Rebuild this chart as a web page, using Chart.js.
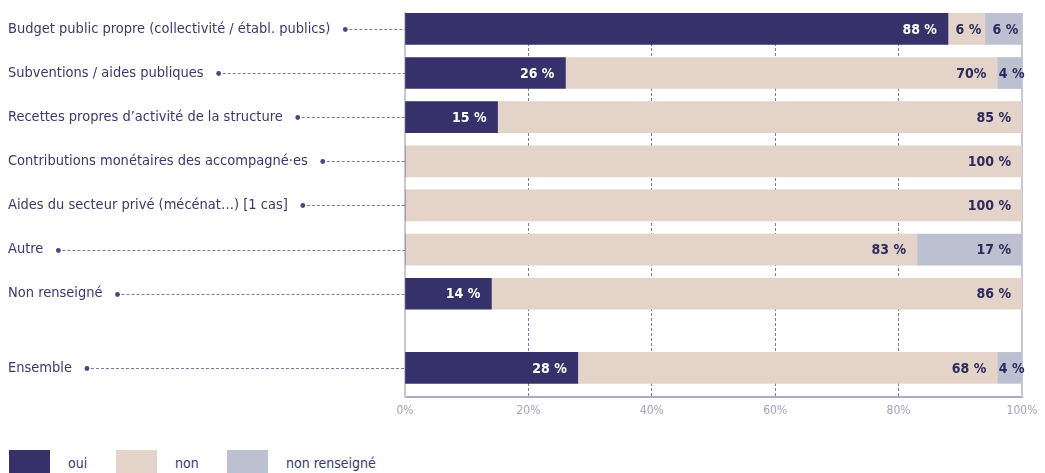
<!DOCTYPE html>
<html lang="fr">
<head>
<meta charset="utf-8">
<title>Sources de financement</title>
<script src="https://cdn.jsdelivr.net/npm/chart.js@4.4.1/dist/chart.umd.min.js"></script>
<style>
  html,body{margin:0;padding:0;background:#fff;}
  body{width:1045px;height:473px;overflow:hidden;position:relative;font-family:"Liberation Sans Narrow","DejaVu Sans Condensed",sans-serif;}
  #wrap{position:absolute;left:0;top:0;width:1045px;height:430px;}
  .leg{position:absolute;top:450px;display:flex;align-items:center;color:#3b3770;font-size:14px;height:26px;}
  .sw{width:41px;height:26px;margin-right:18px;}
</style>
</head>
<body>
<div id="wrap"><canvas id="chart"></canvas></div>
<div class="leg" style="left:9px"><span class="sw" style="background:#36316a"></span>oui</div>
<div class="leg" style="left:116px"><span class="sw" style="background:#e3d3c8"></span>non</div>
<div class="leg" style="left:227px"><span class="sw" style="background:#bcc0d1"></span>non renseigné</div>
<script>
// Data
const categories = [
  'Budget public propre (collectivité / établ. publics)',
  'Subventions / aides publiques',
  'Recettes propres d\u2019activité de la structure',
  'Contributions monétaires des accompagné·es',
  'Aides du secteur privé (mécénat…) [1 cas]',
  'Autre',
  'Non renseigné',
  'Ensemble'
];
const rowPos = [0, 1, 2, 3, 4, 5, 6, 7.68]; // Ensemble is set apart
const oui = [88, 26, 15, 0, 0, 0, 14, 28];
const non = [6, 70, 85, 100, 100, 83, 86, 68];
const nonRenseigne = [6, 4, 0, 0, 0, 17, 0, 4];
const ouiText = ['88 %', '26 %', '15 %', '', '', '', '14 %', '28 %'];
const nonText = ['6 %', '70%', '85 %', '100 %', '100 %', '83 %', '86 %', '68 %'];
const nrText = ['6 %', '4 %', '', '', '', '17 %', '', '4 %'];
const xTicks = [0, 20, 40, 60, 80, 100];

const FONT = '"Liberation Sans Narrow","DejaVu Sans Condensed",sans-serif';
const LABEL_SIZE = 14.5;
Chart.defaults.font.family = FONT;

const texts = [ouiText, nonText, nrText];
const toPts = arr => arr.map((v, i) => ({ x: v, y: rowPos[i] }));

// values inside the bars
const valueLabels = {
  id: 'valueLabels',
  afterDatasetsDraw(chart){
    const ctx = chart.ctx;
    ctx.save();
    ctx.font = 'bold 14px ' + FONT;
    ctx.textBaseline = 'middle';
    chart.data.datasets.forEach((ds, i) => {
      const meta = chart.getDatasetMeta(i);
      meta.data.forEach((bar, j) => {
        const t = texts[i][j];
        if(!t) return;
        const p = bar.getProps(['x', 'y', 'base'], true);
        const w = p.x - p.base;
        const tw = ctx.measureText(t).width;
        ctx.fillStyle = i === 0 ? '#ffffff' : '#2d2a5d';
        if(w > tw + 22){ ctx.textAlign = 'right'; ctx.fillText(t, p.x - 11, p.y + 1); }
        else { ctx.textAlign = 'center'; ctx.fillText(t, (p.x + p.base) / 2 + 2, p.y + 1); }
      });
    });
    ctx.restore();
  }
};

// dot + dotted leader from each label to the axis, and the 100% edge
const leaders = {
  id: 'leaders',
  beforeDatasetsDraw(chart){
    const ctx = chart.ctx, ys = chart.scales.y, xs = chart.scales.x, area = chart.chartArea;
    ctx.save();
    ctx.font = LABEL_SIZE + 'px ' + FONT;
    categories.forEach((c, i) => {
      const y = Math.round(ys.getPixelForValue(rowPos[i])) + 0.5;
      const dotX = 8 + ctx.measureText(c).width + 15;
      ctx.fillStyle = '#4a4680';
      ctx.beginPath(); ctx.arc(dotX, y, 2.4, 0, Math.PI * 2); ctx.fill();
      ctx.strokeStyle = '#7d799f'; ctx.lineWidth = 1; ctx.setLineDash([3, 2]);
      ctx.beginPath(); ctx.moveTo(dotX + 4, y); ctx.lineTo(area.left, y); ctx.stroke();
    });
    ctx.setLineDash([]);
    ctx.strokeStyle = '#c8c6d8'; ctx.lineWidth = 2;
    const rx = xs.getPixelForValue(100);
    ctx.beginPath(); ctx.moveTo(rx, area.top); ctx.lineTo(rx, area.bottom); ctx.stroke();
    ctx.restore();
  }
};

new Chart(document.getElementById('chart'), {
  type: 'bar',
  data: {
    datasets: [
      { label: 'oui', data: toPts(oui), backgroundColor: '#36316a' },
      { label: 'non', data: toPts(non), backgroundColor: '#e3d3c8' },
      { label: 'non renseigné', data: toPts(nonRenseigne), backgroundColor: '#bcc0d1' }
    ]
  },
  options: {
    indexAxis: 'y',
    responsive: true,
    maintainAspectRatio: false,
    animation: false,
    barThickness: 31,
    layout: { padding: { left: 8, right: 23, top: 13, bottom: 0 } },
    plugins: { legend: { display: false }, tooltip: { enabled: false } },
    scales: {
      x: {
        type: 'linear', stacked: true, min: 0, max: 100, bounds: 'data',
        afterBuildTicks: s => { s.ticks = xTicks.map(v => ({ value: v })); },
        afterFit: s => { s.height = 33; },
        grid: {
          drawTicks: false, lineWidth: 1,
          color: c => (c.tick && (c.tick.value === 0 || c.tick.value === 100)) ? 'rgba(0,0,0,0)' : '#7d799f'
        },
        border: { display: true, color: '#aeacc4', width: 2, dash: [3, 2] },
        ticks: { padding: 7, color: '#a3a1bd', font: { size: 12 }, callback: v => v + '%', maxRotation: 0 }
      },
      y: {
        type: 'linear', stacked: true, reverse: true, min: -0.36, max: 8.34, bounds: 'data', offset: false,
        afterBuildTicks: s => { s.ticks = rowPos.map(v => ({ value: v })); },
        afterFit: s => { s.width = 397; },
        grid: { display: false, drawTicks: false, offset: false },
        border: { display: true, color: '#c8c6d8', width: 2 },
        ticks: {
          autoSkip: false, crossAlign: 'far', padding: 0, color: '#3b3770', font: { size: LABEL_SIZE },
          callback: v => categories[rowPos.indexOf(v)]
        }
      }
    }
  },
  plugins: [leaders, valueLabels]
});
</script>
</body>
</html>
